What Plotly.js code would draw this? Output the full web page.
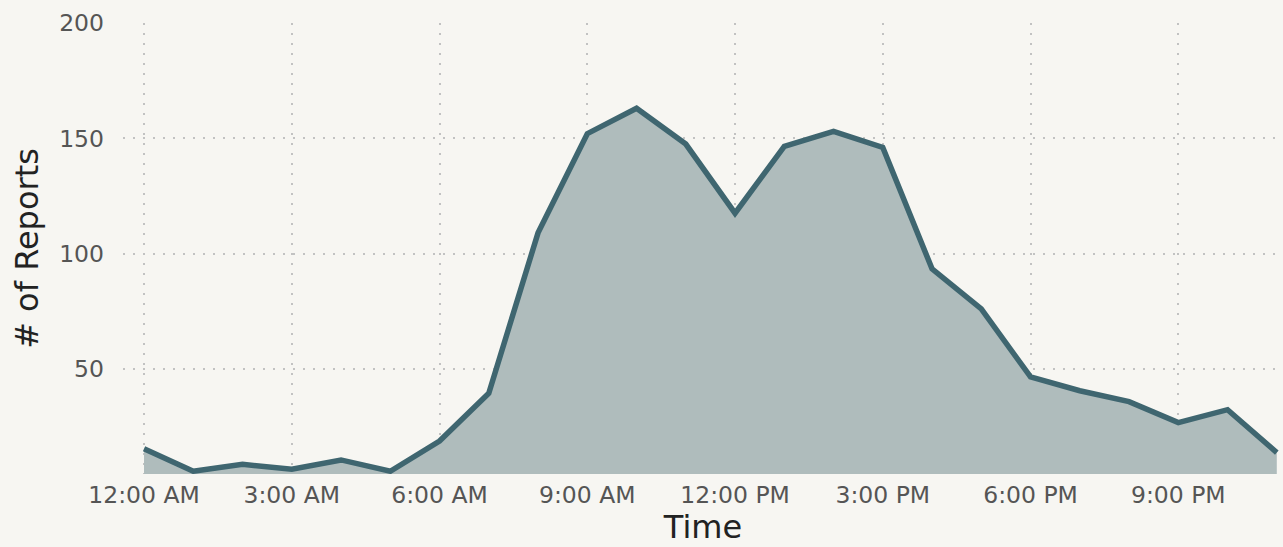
<!DOCTYPE html>
<html>
<head>
<meta charset="utf-8">
<script src="https://cdn.plot.ly/plotly-3.0.1.min.js"></script>
<style>
html,body{margin:0;padding:0;background:#f7f6f2;}
#chart{width:1283px;height:547px;}
</style>
</head>
<body>
<div id="chart"></div>
<script>
const hours = [0,1,2,3,4,5,6,7,8,9,10,11,12,13,14,15,16,17,18,19,20,21,22,23];
const reports = [15.3,5.6,8.6,6.5,10.5,5.6,18.7,39.4,109,152,163,147.5,117.5,146.5,153,146,93.4,76,46.5,40.5,35.8,26.7,32.3,13.7];
const tickHours = [0,3,6,9,12,15,18,21];
const tickLabels = ["12:00 AM","3:00 AM","6:00 AM","9:00 AM","12:00 PM","3:00 PM","6:00 PM","9:00 PM"];
const yTicks = [50,100,150,200];

const trace = {
  x: hours,
  y: reports,
  type: 'scatter',
  mode: 'lines',
  fill: 'tozeroy',
  fillcolor: '#afbcbc',
  line: {color: '#3f6670', width: 5.5},
  hoverinfo: 'x+y'
};

const layout = {
  width: 1283,
  height: 547,
  paper_bgcolor: '#f7f6f2',
  plot_bgcolor: '#f7f6f2',
  margin: {l: 123, r: 0, t: 23, b: 73},
  showlegend: false,
  font: {family: 'DejaVu Sans, Verdana, sans-serif'},
  xaxis: {
    range: [-0.427, 23.126],
    tickvals: tickHours,
    ticktext: tickLabels,
    showgrid: true,
    gridcolor: '#c2c2c2',
    griddash: '2px,8px',
    gridwidth: 2,
    zeroline: false,
    showline: false,
    ticks: '',
    automargin: true,
    ticklabelstandoff: 4,
    tickfont: {size: 23.5, color: '#555555'},
    title: {text: 'Time', font: {size: 32, color: '#222222'}, standoff: 6}
  },
  yaxis: {
    range: [4.4, 200],
    tickvals: yTicks,
    showgrid: true,
    gridcolor: '#c2c2c2',
    griddash: '2px,8px',
    gridwidth: 2,
    zeroline: false,
    showline: false,
    ticks: '',
    ticklabelstandoff: 18,
    tickfont: {size: 23.5, color: '#555555'},
    title: {text: '# of Reports', font: {size: 32, color: '#222222'}, standoff: 10}
  }
};

Plotly.newPlot('chart', [trace], layout, {displayModeBar: false, staticPlot: true});
</script>
</body>
</html>
